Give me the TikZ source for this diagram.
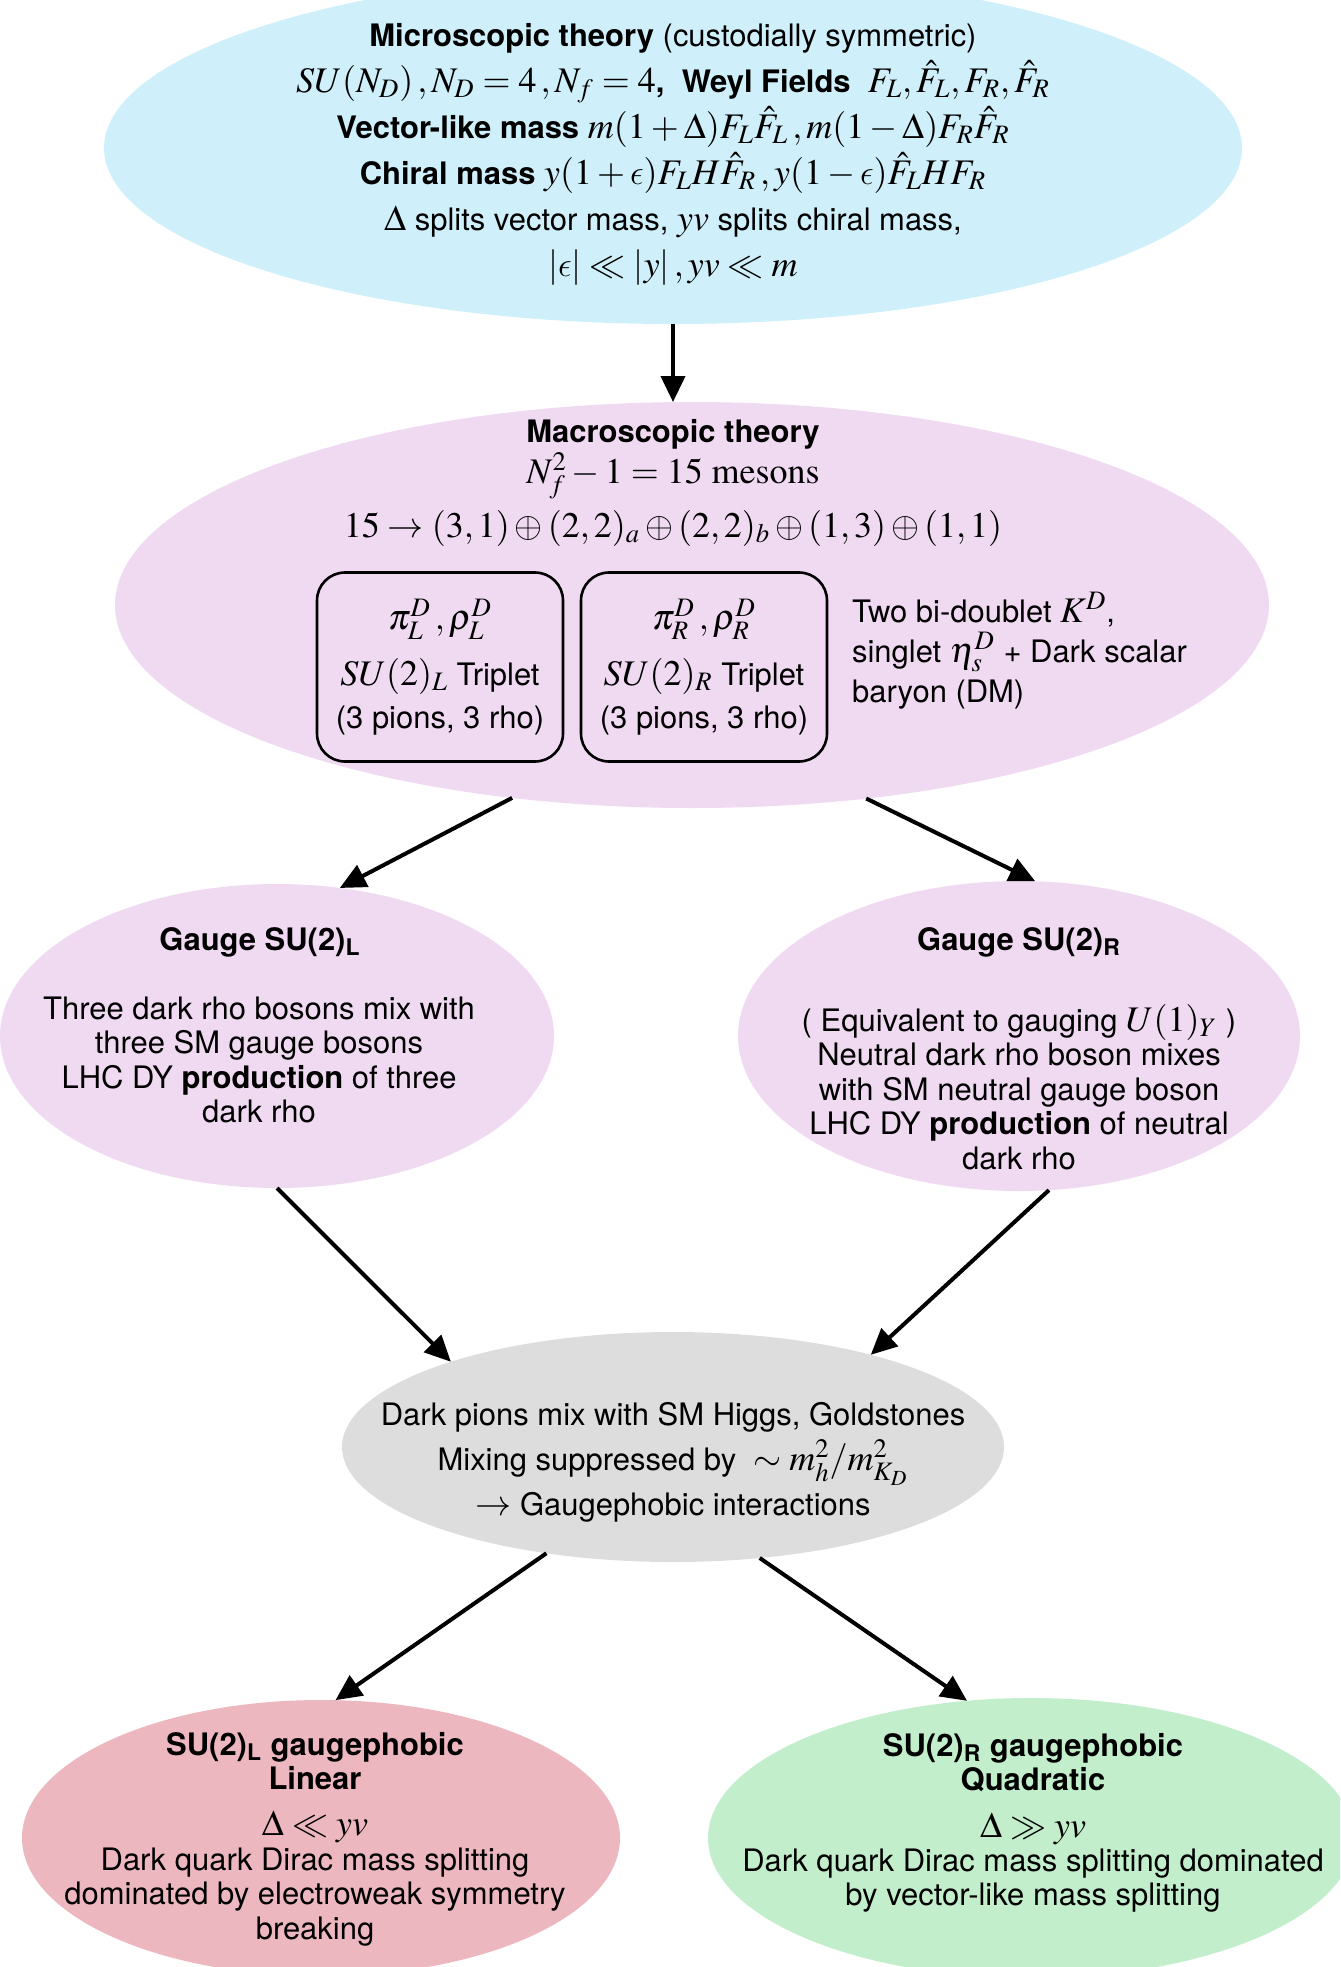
\documentclass[tikz,border=0pt]{standalone}
\usepackage{mathptmx}
\usepackage{fontspec}
\setmainfont{TeX Gyre Heros}[Scale=0.86]
\usetikzlibrary{arrows.meta,shapes.geometric}

\DeclareSymbolFont{cmletters}{OML}{cmm}{m}{it}
\DeclareMathSymbol{\lunateps}{\mathord}{cmletters}{"0F}

\definecolor{microblue}{HTML}{CFF0FA}
\definecolor{macropink}{HTML}{F0DAF2}
\definecolor{mixgrey}{HTML}{DDDDDD}
\definecolor{linred}{HTML}{EDB7C0}
\definecolor{quadgreen}{HTML}{C2EECB}

\begin{document}
\begin{tikzpicture}[
  x=0.5pt, y=-0.5pt,
  >={Triangle[length=13pt,width=12pt]},
  every node/.style={font=\fontsize{18}{17.2}\selectfont},
  blob/.style={ellipse, inner sep=0pt, outer sep=0pt},
  flow/.style={->, line width=2pt},
  tripletbox/.style={draw, line width=1.3pt, rounded corners=14pt,
    minimum width=123pt, minimum height=94.5pt, align=center,
    font=\fontsize{18}{21.5}\selectfont},
]
\useasboundingbox (0,0) rectangle (1340,1967);
\clip (0,0) rectangle (1340,1967);

% Ellipses
\node[blob, fill=microblue, minimum width=569pt, minimum height=176pt] (micro) at (673,148) {};
\node[blob, fill=macropink, minimum width=577pt, minimum height=203pt] (macro) at (692,605) {};
\node[blob, fill=macropink, minimum width=277pt, minimum height=152pt] (gaugeL) at (277,1036) {};
\node[blob, fill=macropink, minimum width=281pt, minimum height=155pt] (gaugeR) at (1019,1036) {};
\node[blob, fill=mixgrey, minimum width=331pt, minimum height=115pt] (mixing) at (673,1447) {};
\node[blob, fill=linred, minimum width=299pt, minimum height=138pt] (linear) at (321,1838) {};
\node[blob, fill=quadgreen, minimum width=323pt, minimum height=140pt] (quadratic) at (1031,1838) {};

% Microscopic theory
\node[align=center, font=\fontsize{18}{23}\selectfont] (microtext) at (673,154) {
  \textbf{Microscopic theory} (custodially symmetric)\\
  $SU(N_D)\,,N_D=4\,,N_f=4$\textbf{,} \ \textbf{Weyl Fields} \ $F_L,\hat F_L,F_R,\hat F_R$\\
  \textbf{Vector-like mass} $m(1+\Delta)F_L\hat F_L\,,m(1-\Delta)F_R\hat F_R$\\
  \textbf{Chiral mass} $y(1+\lunateps)F_LH\hat F_R\,,y(1-\lunateps)\hat F_LHF_R$\\
  $\Delta$ splits vector mass, $yv$ splits chiral mass,\\
  $|\lunateps|\ll|y|\,,yv\ll m$};

% Macroscopic theory
\node (macrotitle) at (673,434) {\textbf{Macroscopic theory}};
\node (mesons) at (673,476) {$N_f^2-1=15\ \mathrm{mesons}$};
\node (decomp) at (673,528) {$15\rightarrow(3,1)\oplus(2,2)_a\oplus(2,2)_b\oplus(1,3)\oplus(1,1)$};
\node[tripletbox] (tripL) at (440,667) {$\pi_L^D\,,\rho_L^D$\\[6.5pt] $SU(2)_L$ Triplet\\ (3 pions, 3 rho)};
\node[tripletbox] (tripR) at (704,667) {$\pi_R^D\,,\rho_R^D$\\[6.5pt] $SU(2)_R$ Triplet\\ (3 pions, 3 rho)};
\node[anchor=west, align=left, font=\fontsize{18}{20}\selectfont] (bidoublet) at (846,651)
  {Two bi-doublet $K^D$,\\ singlet $\eta_s^D$ + Dark scalar\\ baryon (DM)};

% Gauge SU(2)_L and SU(2)_R
\node (gaugeLtitle) at (260,942) {\textbf{Gauge SU(2)\textsubscript{L}}};
\node[align=center] (gaugeLtext) at (259,1060) {Three dark rho bosons mix with\\ three SM gauge bosons\\
  LHC DY \textbf{production} of three\\ dark rho};
\node (gaugeRtitle) at (1019,942) {\textbf{Gauge SU(2)\textsubscript{R}}};
\node[align=center] (gaugeRtext) at (1019,1087) {( Equivalent to gauging $U(1)_Y$ )\\ Neutral dark rho boson mixes\\
  with SM neutral gauge boson\\ LHC DY \textbf{production} of neutral\\ dark rho};

% Mixing
\node[align=center, font=\fontsize{18}{22.5}\selectfont] (mixtext) at (673,1462) {Dark pions mix with SM Higgs, Goldstones\\
  Mixing suppressed by \ $\sim m_h^2/m_{K_D}^2$\\ $\rightarrow$ Gaugephobic interactions};

% Gaugephobic outcomes
\node[align=center] (lintext) at (315,1839) {\textbf{SU(2)\textsubscript{L} gaugephobic}\\ \textbf{Linear}\\[6pt]
  $\Delta\ll yv$\\ Dark quark Dirac mass splitting\\ dominated by electroweak symmetry\\ breaking};
\node[align=center] (quadtext) at (1033,1823) {\textbf{SU(2)\textsubscript{R} gaugephobic}\\ \textbf{Quadratic}\\[6pt]
  $\Delta\gg yv$\\ Dark quark Dirac mass splitting dominated\\ by vector-like mass splitting};

% Arrows
\draw[flow] (micro.south) -- (micro.south |- macro.north);
\draw[flow] (macro.227) -- (gaugeL.67);
\draw[flow] (macro.312) -- (gaugeR.84);
\draw[flow] (gaugeL.270) -- (mixing.159);
\draw[flow] (gaugeR.281) -- (mixing.25);
\draw[flow] (mixing.220) -- (linear.84);
\draw[flow] (mixing.308) -- (quadratic.115);
\end{tikzpicture}
\end{document}
